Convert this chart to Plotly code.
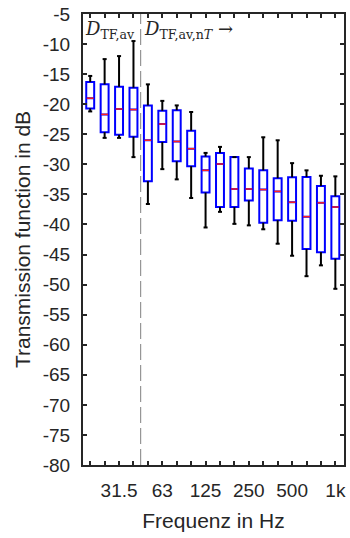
import plotly.graph_objects as go

# third-octave band index 0..17 -> 20 Hz .. 1 kHz
bands = ["20", "25", "31.5", "40", "50", "63", "80", "100", "125", "160",
         "200", "250", "315", "400", "500", "630", "800", "1k"]
tick_labels = ["", "", "31.5", "", "", "63", "", "", "125", "", "", "250",
               "", "", "500", "", "", "1k"]
y_ticks = list(range(-80, 0, 5))
y_tick_labels = [str(v) for v in y_ticks]  # plain hyphen minus, as in reference

upper = [-15.3, -12.5, -12.0, -9.5, -16.7, -19.45, -20.2, -21.3, -28.1,
         -27.1, -28.8, -28.8, -25.5, -26.0, -29.8, -31.0, -31.9, -32.0]
q3 = [-16.3, -16.7, -17.1, -17.25, -20.2, -21.1, -21.0, -24.4, -28.7,
      -28.1, -28.8, -30.7, -31.0, -32.3, -32.15, -32.1, -33.6, -35.3]
median = [-19.0, -21.7, -20.8, -20.9, -26.0, -23.3, -26.2, -27.4, -31.0,
          -29.95, -34.1, -34.1, -34.2, -34.5, -36.3, -38.7, -36.4, -37.1]
q1 = [-20.7, -24.65, -25.1, -25.4, -32.8, -26.3, -29.5, -30.3, -34.7,
      -37.1, -37.1, -36.0, -39.7, -39.3, -39.4, -44.1, -44.6, -45.7]
lower = [-21.2, -25.6, -25.6, -28.8, -36.6, -30.8, -32.5, -35.6, -40.5,
         -37.9, -39.9, -40.15, -40.8, -43.2, -45.2, -48.6, -46.8, -50.7]

SPLIT_X = 3.5
BOX_W = 0.55
CAP_W = 0.28
xs = list(range(len(bands)))

FONT = "Liberation Sans, Arial, sans-serif"
TXT = "#262626"

fig = go.Figure()

# whiskers
wx, wy = [], []
cx, cy = [], []
for i in xs:
    wx += [i, i, None, i, i, None]
    wy += [q3[i], upper[i], None, q1[i], lower[i], None]
    cx += [i - CAP_W / 2, i + CAP_W / 2, None, i - CAP_W / 2, i + CAP_W / 2, None]
    cy += [upper[i], upper[i], None, lower[i], lower[i], None]
fig.add_trace(go.Scatter(x=wx, y=wy, mode="lines", line=dict(color="black", width=2),
                         hoverinfo="skip", showlegend=False))
fig.add_trace(go.Scatter(x=cx, y=cy, mode="lines", line=dict(color="black", width=2),
                         hoverinfo="skip", showlegend=False))

# boxes
fig.add_trace(go.Box(x=xs, q1=q1, median=median, q3=q3, lowerfence=q1, upperfence=q3,
                     width=BOX_W, whiskerwidth=0, fillcolor="white",
                     line=dict(color="#0000ff", width=2), showlegend=False,
                     boxpoints=False))

# medians in red
mx, my = [], []
for i in xs:
    mx += [i - BOX_W / 2 + 0.04, i + BOX_W / 2 - 0.04, None]
    my += [median[i], median[i], None]
fig.add_trace(go.Scatter(x=mx, y=my, mode="lines", line=dict(color="#ff2020", width=1.5),
                         hoverinfo="skip", showlegend=False))

# separator
fig.add_trace(go.Scatter(x=[SPLIT_X, SPLIT_X], y=[-80, -5], mode="lines",
                         line=dict(color="#808080", width=1, dash="16px,5px"),
                         hoverinfo="skip", showlegend=False))

axis_common = dict(showline=True, linecolor=TXT, linewidth=2, mirror="ticks",
                   ticks="inside", tickcolor=TXT, tickwidth=2, ticklen=4,
                   showgrid=False, zeroline=False,
                   tickfont=dict(family=FONT, size=19, color=TXT))

fig.update_layout(
    width=350, height=538,
    margin=dict(l=83, r=4, t=12, b=73),
    plot_bgcolor="white", paper_bgcolor="white",
    xaxis=dict(range=[-0.5, 17.6], tickvals=xs, ticktext=tick_labels,
               ticklabelstandoff=7,
               title=dict(text="Frequenz in Hz", standoff=14,
                          font=dict(family=FONT, size=21, color=TXT)),
               **axis_common),
    yaxis=dict(range=[-80, -5], tickvals=y_ticks, ticktext=y_tick_labels,
               ticklabelstandoff=7,
               title=dict(text="Transmission function in dB", standoff=6,
                          font=dict(family=FONT, size=21, color=TXT)),
               **axis_common),
)

fig.add_annotation(x=-0.5, y=-5.3, xref="x", yref="y", xanchor="left", yanchor="top",
                   showarrow=False,
                   text="<i>D</i><sub>TF,av</sub>",
                   font=dict(family="DejaVu Serif, Liberation Serif, serif", size=18,
                             color=TXT))
fig.add_annotation(x=SPLIT_X + 0.1, y=-5.3, xref="x", yref="y", xanchor="left", yanchor="top",
                   showarrow=False,
                   text="<i>D</i><sub>TF,av,n<i>T</i></sub> →",
                   font=dict(family="DejaVu Serif, Liberation Serif, serif", size=18,
                             color=TXT))

fig.write_html("out.html")
